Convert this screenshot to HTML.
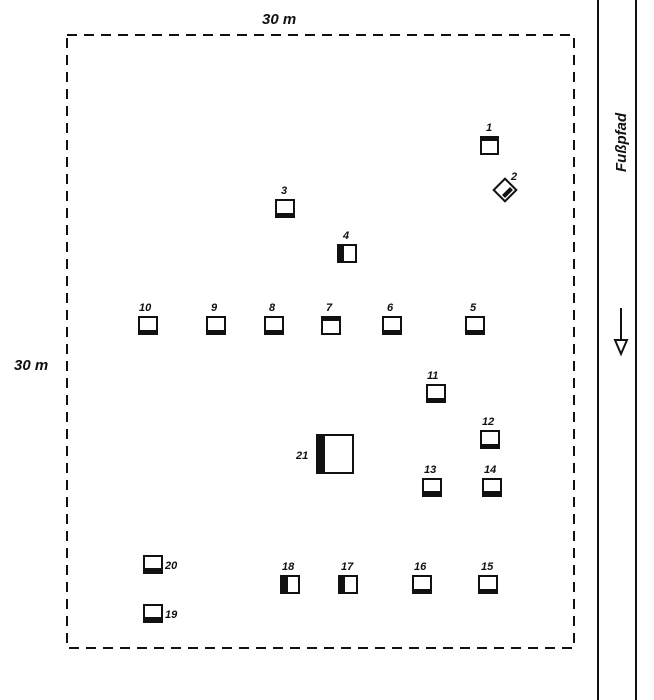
<!DOCTYPE html><html><head><style>body{margin:0;background:#fff}svg{display:block}text{font-family:"Liberation Sans",sans-serif;font-style:italic;font-weight:bold;font-size:11px;fill:#111}</style></head><body>
<svg width="654" height="700" viewBox="0 0 654 700" xmlns="http://www.w3.org/2000/svg">
<rect x="67" y="35" width="507" height="613" fill="none" stroke="#111" stroke-width="2" stroke-dasharray="10,7"/>
<line x1="598" y1="0" x2="598" y2="700" stroke="#111" stroke-width="2"/>
<line x1="636" y1="0" x2="636" y2="700" stroke="#111" stroke-width="2"/>
<text x="262" y="24" style="font-size:15px">30 m</text>
<text x="14" y="370" style="font-size:15px">30 m</text>
<text transform="translate(626,172) rotate(-90)" style="font-size:15px">Fußpfad</text>
<line x1="621" y1="308" x2="621" y2="340" stroke="#111" stroke-width="2"/>
<polygon points="615,340 627,340 621,354" fill="#fff" stroke="#111" stroke-width="2"/>
<g fill="#fff" stroke="#111" stroke-width="2">
<!-- boxes -->
<rect x="481" y="137" width="17" height="17"/>
<rect x="276" y="200" width="18" height="17"/>
<rect x="338" y="245" width="18" height="17"/>
<rect x="466" y="317" width="18" height="17"/>
<rect x="383" y="317" width="18" height="17"/>
<rect x="322" y="317" width="18" height="17"/>
<rect x="265" y="317" width="18" height="17"/>
<rect x="207" y="317" width="18" height="17"/>
<rect x="139" y="317" width="18" height="17"/>
<rect x="427" y="385" width="18" height="17"/>
<rect x="481" y="431" width="18" height="17"/>
<rect x="423" y="479" width="18" height="17"/>
<rect x="483" y="479" width="18" height="17"/>
<rect x="479" y="576" width="18" height="17"/>
<rect x="413" y="576" width="18" height="17"/>
<rect x="339" y="576" width="18" height="17"/>
<rect x="281" y="576" width="18" height="17"/>
<rect x="144" y="605" width="18" height="17"/>
<rect x="144" y="556" width="18" height="17"/>
<rect x="317" y="435" width="36" height="38"/>
<rect x="497" y="182" width="16" height="16" transform="rotate(45 505 190)"/>
</g>
<g fill="#111">
<rect x="481" y="137" width="17" height="4"/>
<rect x="276" y="213" width="18" height="4"/>
<rect x="338" y="245" width="6" height="17"/>
<rect x="466" y="330" width="18" height="4"/>
<rect x="383" y="330" width="18" height="4"/>
<rect x="322" y="317" width="18" height="4"/>
<rect x="265" y="330" width="18" height="4"/>
<rect x="207" y="330" width="18" height="3"/>
<rect x="139" y="330" width="18" height="4"/>
<rect x="427" y="398" width="18" height="4"/>
<rect x="481" y="444" width="18" height="4"/>
<rect x="423" y="491" width="18" height="5"/>
<rect x="483" y="491" width="18" height="5"/>
<rect x="479" y="589" width="18" height="4"/>
<rect x="413" y="589" width="18" height="4"/>
<rect x="339" y="576" width="6" height="17"/>
<rect x="281" y="576" width="7" height="17"/>
<rect x="144" y="617" width="18" height="5"/>
<rect x="144" y="568" width="18" height="5"/>
<rect x="317" y="435" width="8" height="38"/>
<polygon points="513,190 505,198 502,195 510,187"/>
</g>
<text x="486" y="131">1</text><text x="511" y="180">2</text><text x="281" y="194">3</text><text x="343" y="239">4</text>
<text x="470" y="311">5</text><text x="387" y="311">6</text><text x="326" y="311">7</text><text x="269" y="311">8</text>
<text x="211" y="311">9</text><text x="139" y="311">10</text><text x="427" y="379">11</text><text x="482" y="425">12</text>
<text x="424" y="473">13</text><text x="484" y="473">14</text><text x="481" y="570">15</text><text x="414" y="570">16</text>
<text x="341" y="570">17</text><text x="282" y="570">18</text><text x="165" y="618">19</text><text x="165" y="569">20</text>
<text x="296" y="459">21</text>
</svg></body></html>
